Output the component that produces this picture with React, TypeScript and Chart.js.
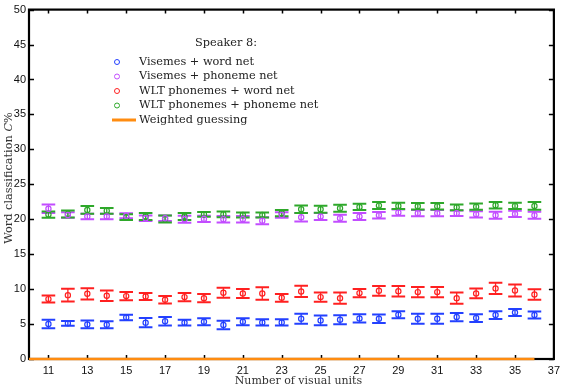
import React, { useEffect, useRef } from "react";
import { Chart, registerables } from "chart.js";

Chart.register(...registerables);

const units = [11, 12, 13, 14, 15, 16, 17, 18, 19, 20, 21, 22, 23, 24, 25, 26, 27, 28, 29, 30, 31, 32, 33, 34, 35, 36];

const visWordMean = [5.0, 5.1, 4.95, 4.9, 5.95, 5.2, 5.4, 5.2, 5.33, 4.86, 5.33, 5.24, 5.24, 5.76, 5.52, 5.62, 5.81, 5.76, 6.33, 5.76, 5.76, 6.0, 5.86, 6.29, 6.67, 6.29];
const visWordErr = [0.6, 0.35, 0.55, 0.5, 0.4, 0.65, 0.6, 0.4, 0.5, 0.6, 0.5, 0.45, 0.45, 0.7, 0.7, 0.65, 0.6, 0.6, 0.5, 0.7, 0.7, 0.6, 0.55, 0.55, 0.5, 0.5];

const visPhonMean = [21.5, 20.6, 20.4, 20.4, 20.5, 20.15, 20.15, 20.0, 20.05, 20.0, 20.0, 19.8, 20.6, 20.29, 20.38, 20.14, 20.38, 20.57, 20.95, 20.86, 20.86, 20.86, 20.71, 20.57, 20.76, 20.57];
const visPhonErr = [0.6, 0.4, 0.4, 0.4, 0.35, 0.4, 0.4, 0.5, 0.45, 0.45, 0.45, 0.5, 0.4, 0.6, 0.5, 0.5, 0.5, 0.45, 0.45, 0.45, 0.45, 0.4, 0.45, 0.5, 0.45, 0.5];

const wltWordMean = [8.57, 9.14, 9.33, 9.05, 9.0, 8.95, 8.48, 8.86, 8.71, 9.48, 9.38, 9.38, 8.76, 9.67, 8.86, 8.71, 9.43, 9.76, 9.71, 9.57, 9.57, 8.71, 9.38, 10.1, 9.81, 9.24];
const wltWordErr = [0.5, 0.9, 0.8, 0.75, 0.6, 0.5, 0.55, 0.6, 0.6, 0.7, 0.65, 0.9, 0.55, 0.8, 0.65, 0.8, 0.6, 0.7, 0.75, 0.75, 0.75, 0.8, 0.7, 0.8, 0.85, 0.75];

const wltPhonMean = [20.67, 20.76, 21.33, 21.2, 20.3, 20.4, 20.05, 20.4, 20.7, 20.7, 20.6, 20.6, 20.86, 21.43, 21.43, 21.57, 21.76, 21.95, 21.9, 21.86, 21.86, 21.7, 21.8, 22.0, 21.9, 21.9];
const wltPhonErr = [0.45, 0.5, 0.55, 0.4, 0.4, 0.5, 0.5, 0.5, 0.35, 0.4, 0.35, 0.35, 0.45, 0.55, 0.5, 0.5, 0.45, 0.5, 0.45, 0.45, 0.45, 0.4, 0.45, 0.45, 0.45, 0.55];

const guessX = [10, 36];
const guessY = [0, 0];

const xTickValues = [11, 13, 15, 17, 19, 21, 23, 25, 27, 29, 31, 33, 35, 37];
const xMinorTicks = [11, 13, 15, 17, 19, 21, 23, 25, 27, 29, 31, 33, 35];
const yTickValues = [0, 5, 10, 15, 20, 25, 30, 35, 40, 45, 50];

const legendTitle = "Speaker 8:";
const seriesNames = ["Visemes + word net", "Visemes + phoneme net", "WLT phonemes + word net", "WLT phonemes + phoneme net", "Weighted guessing"];
const seriesColors = ["#2340ff", "#c24dff", "#ff2020", "#2ea82a", "#ff8c10"];

const xTitle = "Number of visual units";

const serif = "'DejaVu Serif', serif";
const sans = "'Liberation Sans', Arial, sans-serif";

export default function App() {
  const ref = useRef<HTMLCanvasElement | null>(null);

  useEffect(() => {
    const canvas = ref.current;
    if (!canvas) return;

    const series = [
      { mean: visWordMean, err: visWordErr },
      { mean: visPhonMean, err: visPhonErr },
      { mean: wltWordMean, err: wltWordErr },
      { mean: wltPhonMean, err: wltPhonErr },
    ];

    const datasets: any[] = series.map((s, i) => ({
      label: seriesNames[i],
      data: units.map((u, j) => ({ x: u, y: s.mean[j] })),
      errs: s.err,
      showLine: false,
      pointStyle: "circle",
      pointRadius: 2.6,
      pointBorderWidth: 1.2,
      borderColor: seriesColors[i],
      backgroundColor: "rgba(0,0,0,0)",
      pointBackgroundColor: "rgba(0,0,0,0)",
      pointBorderColor: seriesColors[i],
    }));
    datasets.push({
      label: seriesNames[4],
      data: guessX.map((x, j) => ({ x, y: guessY[j] })),
      showLine: true,
      borderColor: seriesColors[4],
      borderWidth: 2.5,
      pointRadius: 0,
      clip: false,
    });

    const framePlugin = {
      id: "frame",
      beforeDatasetsDraw(chart: any) {
        const ctx = chart.ctx;
        const { left, right, top, bottom } = chart.chartArea;
        const xs = chart.scales.x;
        const ys = chart.scales.y;
        ctx.save();
        ctx.strokeStyle = "#000";
        ctx.lineWidth = 2.2;
        ctx.strokeRect(left, top, right - left, bottom - top);
        ctx.lineWidth = 1.5;
        ctx.beginPath();
        xMinorTicks.forEach((v) => {
          const px = Math.round(xs.getPixelForValue(v)) + 0.5;
          ctx.moveTo(px, bottom);
          ctx.lineTo(px, bottom - 4);
          ctx.moveTo(px, top);
          ctx.lineTo(px, top + 4);
        });
        yTickValues.forEach((v) => {
          const py = Math.round(ys.getPixelForValue(v)) + 0.5;
          ctx.moveTo(left, py);
          ctx.lineTo(left + 5, py);
          ctx.moveTo(right, py);
          ctx.lineTo(right - 5, py);
        });
        ctx.stroke();

        chart.data.datasets.forEach((ds: any, di: number) => {
          if (!ds.errs) return;
          ctx.strokeStyle = seriesColors[di];
          ds.data.forEach((p: any, j: number) => {
            const e = ds.errs[j];
            const px = xs.getPixelForValue(p.x);
            const pTop = ys.getPixelForValue(p.y + e);
            const pBot = ys.getPixelForValue(p.y - e);
            ctx.lineWidth = 1.3;
            ctx.beginPath();
            ctx.moveTo(px, pTop);
            ctx.lineTo(px, pBot);
            ctx.stroke();
            ctx.lineWidth = 2;
            ctx.beginPath();
            ctx.moveTo(px - 6.8, pTop);
            ctx.lineTo(px + 6.8, pTop);
            ctx.moveTo(px - 6.8, pBot);
            ctx.lineTo(px + 6.8, pBot);
            ctx.stroke();
          });
        });
        ctx.restore();
      },
      afterDraw(chart: any) {
        const ctx = chart.ctx;
        const { left, right } = chart.chartArea;
        ctx.save();
        ctx.fillStyle = "#333";
        ctx.font = `11px ${serif}`;
        ctx.textAlign = "center";
        ctx.textBaseline = "alphabetic";
        ctx.fillText(xTitle, (left + right) / 2 + 7, 384);

        ctx.translate(9, 178);
        ctx.rotate(-Math.PI / 2);
        const p1 = "Word classification ";
        const p2 = "C";
        const p3 = "%";
        const fs = 11.3;
        ctx.font = `${fs}px ${serif}`;
        const w1 = ctx.measureText(p1).width;
        const w3 = ctx.measureText(p3).width;
        ctx.font = `italic ${fs}px ${serif}`;
        const w2 = ctx.measureText(p2).width;
        const tot = w1 + w2 + w3;
        ctx.textAlign = "left";
        ctx.textBaseline = "middle";
        let cx = -tot / 2;
        ctx.font = `${fs}px ${serif}`;
        ctx.fillText(p1, cx, 0);
        cx += w1;
        ctx.font = `italic ${fs}px ${serif}`;
        ctx.fillText(p2, cx, 0);
        cx += w2;
        ctx.font = `${fs}px ${serif}`;
        ctx.fillText(p3, cx, 0);
        ctx.restore();

        ctx.save();
        ctx.font = `11.3px ${serif}`;
        ctx.fillStyle = "#222";
        ctx.textBaseline = "middle";
        ctx.textAlign = "center";
        ctx.fillText(legendTitle, 226, 43);
        const rowY = [62, 76.5, 91, 105.5, 120];
        ctx.textAlign = "left";
        seriesNames.forEach((name, i) => {
          const y = rowY[i];
          ctx.strokeStyle = seriesColors[i];
          if (i < 4) {
            ctx.lineWidth = 1;
            ctx.beginPath();
            ctx.arc(117, y, 2.5, 0, Math.PI * 2);
            ctx.stroke();
          } else {
            ctx.lineWidth = 3;
            ctx.beginPath();
            ctx.moveTo(112, y);
            ctx.lineTo(136, y);
            ctx.stroke();
          }
          ctx.fillStyle = "#222";
          ctx.fillText(name, 139, y);
        });
        ctx.restore();
      },
    };

    const chart = new Chart(canvas, {
      type: "scatter",
      data: { datasets },
      options: {
        animation: false,
        responsive: false,
        devicePixelRatio: 1,
        layout: { padding: { top: 9, right: 10, left: 0, bottom: 0 } },
        plugins: { legend: { display: false }, tooltip: { enabled: false } },
        scales: {
          x: {
            type: "linear",
            min: 10,
            max: 37,
            grid: { display: false, drawTicks: false },
            border: { display: false },
            afterBuildTicks: (s: any) => {
              s.ticks = xTickValues.map((v) => ({ value: v }));
            },
            afterFit: (s: any) => {
              s.height = 27;
            },
            ticks: {
              font: { family: sans, size: 11 },
              color: "#111",
              padding: 5,
              maxRotation: 0,
              autoSkip: false,
            },
          },
          y: {
            type: "linear",
            min: 0,
            max: 50,
            grid: { display: false, drawTicks: false },
            border: { display: false },
            afterBuildTicks: (s: any) => {
              s.ticks = yTickValues.map((v) => ({ value: v }));
            },
            afterFit: (s: any) => {
              s.width = 29;
            },
            ticks: {
              font: { family: sans, size: 11 },
              color: "#111",
              padding: 3,
            },
          },
        },
      } as any,
      plugins: [framePlugin],
    });

    return () => chart.destroy();
  }, []);

  return (
    <div style={{ position: "fixed", left: 0, top: 0, width: 565, height: 386, background: "#fff" }}>
      <canvas ref={ref} width={565} height={386} style={{ width: 565, height: 386, display: "block" }} />
    </div>
  );
}
